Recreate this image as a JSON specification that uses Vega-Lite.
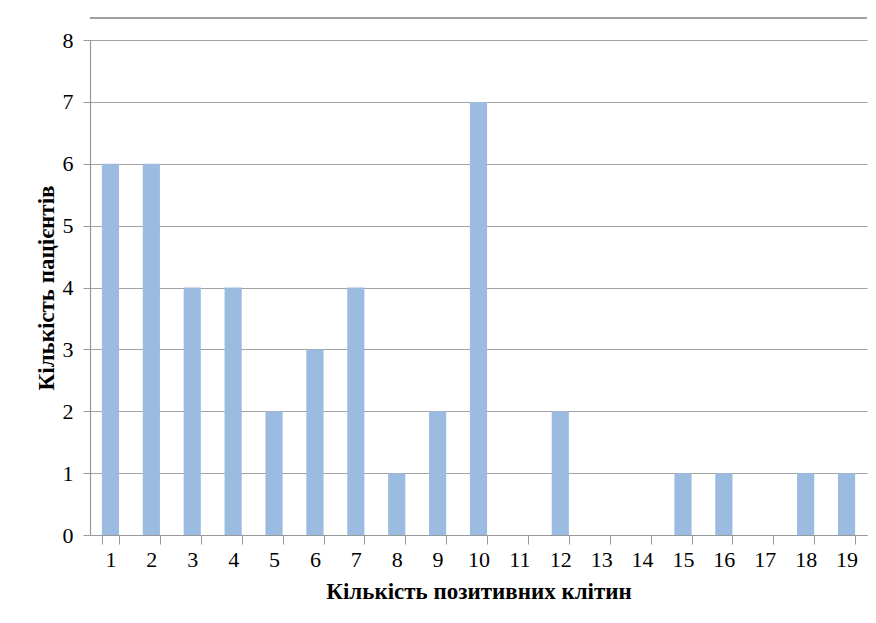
{
  "$schema": "https://vega.github.io/schema/vega-lite/v6.json",
  "width": 777,
  "height": 495,
  "autosize": {"type": "none"},
  "padding": {"left": 90, "top": 40, "right": 9, "bottom": 88},
  "background": "white",
  "config": {
    "view": {"stroke": null},
    "font": "Liberation Serif",
    "axis": {
      "labelFont": "Liberation Serif",
      "labelFontSize": 22,
      "labelColor": "#000000",
      "titleFont": "Liberation Serif",
      "titleFontSize": 23,
      "titleFontWeight": "bold",
      "titleColor": "#000000",
      "tickColor": "#999999",
      "domainColor": "#999999",
      "domainWidth": 1.2
    },
    "axisX": {
      "labelAngle": 0,
      "labelPadding": 5,
      "titlePadding": 10,
      "tickBand": "extent",
      "tickSize": 9,
      "grid": false
    },
    "axisY": {
      "labelPadding": 10,
      "titlePadding": 4,
      "tickSize": 7,
      "grid": true,
      "gridColor": "#a3a3a3",
      "gridWidth": 1.2
    }
  },
  "data": {
    "values": [
      {"cells": 1, "patients": 6},
      {"cells": 2, "patients": 6},
      {"cells": 3, "patients": 4},
      {"cells": 4, "patients": 4},
      {"cells": 5, "patients": 2},
      {"cells": 6, "patients": 3},
      {"cells": 7, "patients": 4},
      {"cells": 8, "patients": 1},
      {"cells": 9, "patients": 2},
      {"cells": 10, "patients": 7},
      {"cells": 11, "patients": 0},
      {"cells": 12, "patients": 2},
      {"cells": 13, "patients": 0},
      {"cells": 14, "patients": 0},
      {"cells": 15, "patients": 1},
      {"cells": 16, "patients": 1},
      {"cells": 17, "patients": 0},
      {"cells": 18, "patients": 1},
      {"cells": 19, "patients": 1}
    ]
  },
  "layer": [
    {
      "mark": {"type": "bar", "color": "#9BBBE0"},
      "encoding": {
        "x": {
          "field": "cells",
          "type": "ordinal",
          "sort": "ascending",
          "scale": {"paddingInner": 0.58, "paddingOuter": 0.29},
          "axis": {"title": "Кількість позитивних клітин"}
        },
        "y": {
          "field": "patients",
          "type": "quantitative",
          "scale": {"domain": [0, 8], "nice": false, "clamp": false},
          "axis": {
            "title": "Кількість пацієнтів",
            "values": [0, 1, 2, 3, 4, 5, 6, 7, 8],
            "format": "d"
          }
        }
      }
    },
    {
      "mark": {"type": "rule", "color": "#a0a0a0", "strokeWidth": 1.5, "clip": false},
      "encoding": {
        "y": {"datum": 8.36, "type": "quantitative"}
      }
    }
  ]
}
